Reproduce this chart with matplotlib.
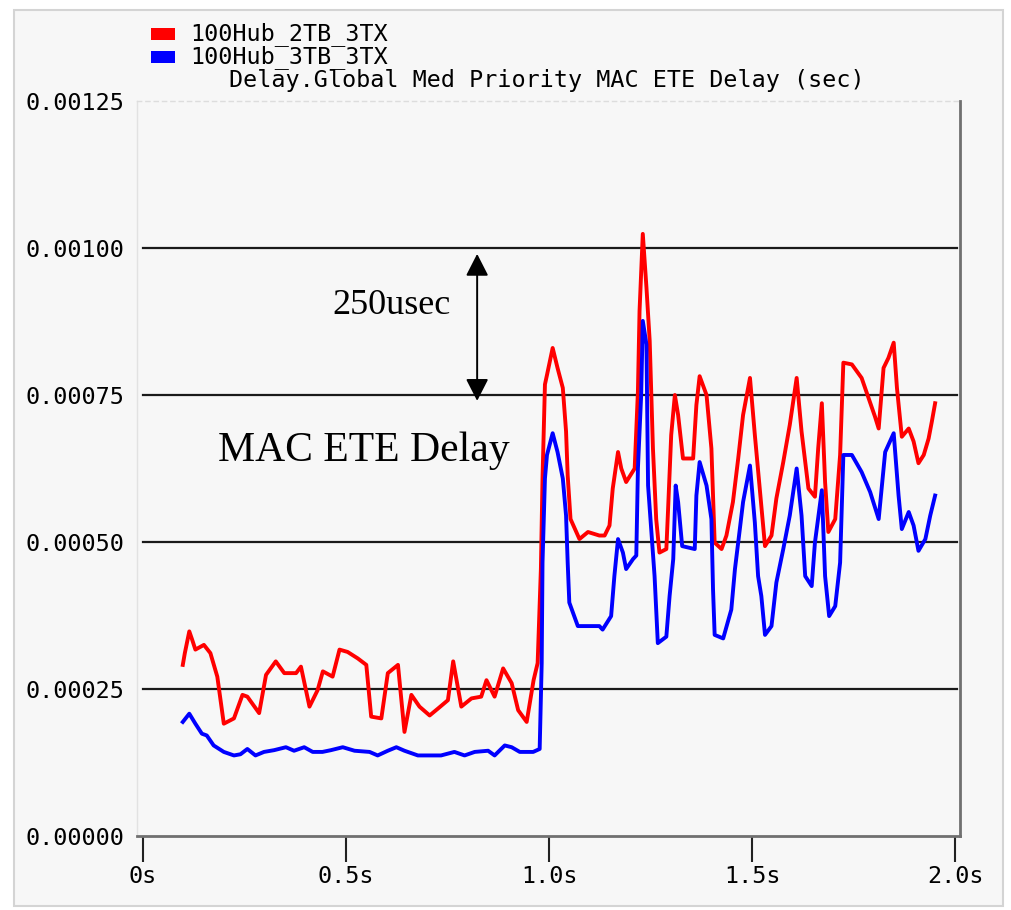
import matplotlib
matplotlib.use("Agg")
import matplotlib.pyplot as plt
from matplotlib.patches import Rectangle

W, H = 1011, 910
BG = "#f7f7f7"
RED = "#ff0000"
BLUE = "#0000ff"
MONO = "DejaVu Sans Mono"
SERIF = "Liberation Serif"
FS = 16.8

# ---- data (time in s, delay in sec) ----
red_t = [0.098, 0.103, 0.114, 0.121, 0.129, 0.150, 0.166, 0.183, 0.199, 0.224,
         0.245, 0.257, 0.286, 0.303, 0.327, 0.348, 0.377, 0.389, 0.410, 0.430,
         0.443, 0.467, 0.484, 0.504, 0.529, 0.550, 0.562, 0.587, 0.603, 0.628,
         0.644, 0.661, 0.681, 0.706, 0.727, 0.751, 0.764, 0.784, 0.809, 0.833,
         0.846, 0.866, 0.887, 0.908, 0.924, 0.945, 0.962, 0.972, 0.980, 0.984,
         0.990, 0.995, 1.009, 1.021, 1.034, 1.042, 1.046, 1.053, 1.075, 1.096,
         1.124, 1.137, 1.149, 1.157, 1.170, 1.178, 1.190, 1.211, 1.219, 1.223,
         1.231, 1.240, 1.248, 1.256, 1.264, 1.272, 1.289, 1.293, 1.301, 1.310,
         1.318, 1.330, 1.355, 1.359, 1.363, 1.371, 1.388, 1.400, 1.408, 1.425,
         1.437, 1.453, 1.466, 1.478, 1.495, 1.507, 1.519, 1.532, 1.548, 1.560,
         1.577, 1.593, 1.610, 1.622, 1.639, 1.655, 1.663, 1.672, 1.680, 1.688,
         1.705, 1.717, 1.725, 1.746, 1.770, 1.787, 1.803, 1.812, 1.824, 1.836,
         1.849, 1.857, 1.869, 1.886, 1.898, 1.910, 1.923, 1.935, 1.943, 1.951]
red_v = [0.000291, 0.000311, 0.000348, 0.000334, 0.000317, 0.000325, 0.000311, 0.000271, 0.000191, 0.000200,
         0.000240, 0.000237, 0.000209, 0.000274, 0.000297, 0.000277, 0.000277, 0.000288, 0.000220, 0.000248,
         0.000280, 0.000271, 0.000317, 0.000313, 0.000302, 0.000291, 0.000203, 0.000200, 0.000277, 0.000291,
         0.000177, 0.000240, 0.000220, 0.000205, 0.000217, 0.000231, 0.000297, 0.000220, 0.000234, 0.000237,
         0.000265, 0.000237, 0.000285, 0.000260, 0.000214, 0.000194, 0.000265, 0.000294, 0.000454, 0.000608,
         0.000768, 0.000784, 0.000830, 0.000796, 0.000762, 0.000688, 0.000613, 0.000539, 0.000505, 0.000517,
         0.000511, 0.000511, 0.000528, 0.000591, 0.000653, 0.000625, 0.000602, 0.000625, 0.000756, 0.000893,
         0.001024, 0.000933, 0.000842, 0.000659, 0.000539, 0.000482, 0.000488, 0.000551, 0.000682, 0.000750,
         0.000716, 0.000642, 0.000642, 0.000688, 0.000733, 0.000782, 0.000750, 0.000659, 0.000499, 0.000488,
         0.000511, 0.000568, 0.000642, 0.000716, 0.000779, 0.000682, 0.000591, 0.000493, 0.000511, 0.000574,
         0.000636, 0.000699, 0.000779, 0.000688, 0.000591, 0.000577, 0.000659, 0.000736, 0.000602, 0.000517,
         0.000539, 0.000648, 0.000805, 0.000802, 0.000779, 0.000745, 0.000713, 0.000693, 0.000796, 0.000813,
         0.000839, 0.000762, 0.000679, 0.000693, 0.000671, 0.000634, 0.000648, 0.000676, 0.000705, 0.000736]

blue_t = [0.098, 0.114, 0.129, 0.145, 0.157, 0.174, 0.199, 0.224, 0.240, 0.257,
          0.277, 0.298, 0.323, 0.352, 0.372, 0.397, 0.418, 0.442, 0.463, 0.492,
          0.521, 0.558, 0.578, 0.603, 0.624, 0.644, 0.677, 0.734, 0.767, 0.792,
          0.817, 0.850, 0.866, 0.891, 0.908, 0.928, 0.961, 0.977, 0.982, 0.984,
          0.990, 0.995, 1.009, 1.021, 1.034, 1.042, 1.046, 1.050, 1.071, 1.124,
          1.132, 1.153, 1.161, 1.170, 1.182, 1.190, 1.207, 1.215, 1.219, 1.227,
          1.231, 1.240, 1.244, 1.260, 1.264, 1.268, 1.289, 1.297, 1.306, 1.312,
          1.318, 1.328, 1.359, 1.363, 1.371, 1.388, 1.400, 1.404, 1.408, 1.429,
          1.449, 1.458, 1.470, 1.478, 1.495, 1.507, 1.515, 1.523, 1.532, 1.548,
          1.560, 1.577, 1.593, 1.610, 1.622, 1.631, 1.647, 1.655, 1.672, 1.680,
          1.690, 1.705, 1.717, 1.725, 1.746, 1.770, 1.791, 1.812, 1.828, 1.849,
          1.861, 1.869, 1.886, 1.898, 1.910, 1.927, 1.939, 1.951]
blue_v = [0.000194, 0.000208, 0.000191, 0.000174, 0.000171, 0.000154, 0.000143, 0.000137, 0.000139, 0.000148,
          0.000137, 0.000143, 0.000146, 0.000151, 0.000145, 0.000151, 0.000143, 0.000143, 0.000146, 0.000151,
          0.000145, 0.000143, 0.000137, 0.000145, 0.000151, 0.000145, 0.000137, 0.000137, 0.000143, 0.000137,
          0.000143, 0.000145, 0.000137, 0.000154, 0.000151, 0.000143, 0.000143, 0.000148, 0.000294, 0.000465,
          0.000608, 0.000648, 0.000685, 0.000653, 0.000608, 0.000545, 0.000465, 0.000397, 0.000357, 0.000357,
          0.000351, 0.000374, 0.000442, 0.000505, 0.000482, 0.000454, 0.000471, 0.000477, 0.000625, 0.000750,
          0.000876, 0.000836, 0.000596, 0.000442, 0.000385, 0.000328, 0.000339, 0.000408, 0.000471, 0.000596,
          0.000568, 0.000493, 0.000488, 0.000579, 0.000636, 0.000596, 0.000539, 0.000419, 0.000342, 0.000336,
          0.000385, 0.000454, 0.000522, 0.000568, 0.000630, 0.000533, 0.000442, 0.000408, 0.000342, 0.000357,
          0.000431, 0.000488, 0.000545, 0.000625, 0.000545, 0.000442, 0.000425, 0.000499, 0.000588, 0.000442,
          0.000374, 0.000391, 0.000465, 0.000648, 0.000648, 0.000619, 0.000585, 0.000539, 0.000653, 0.000685,
          0.000579, 0.000522, 0.000551, 0.000528, 0.000485, 0.000505, 0.000545, 0.000579]

series_names = ["100Hub_2TB_3TX", "100Hub_3TB_3TX"]
series_colors = [RED, BLUE]
x_ticks = [0.0, 0.5, 1.0, 1.5, 2.0]
x_labels = ["0s", "0.5s", "1.0s", "1.5s", "2.0s"]
y_ticks = [0.0, 0.00025, 0.0005, 0.00075, 0.001, 0.00125]
y_labels = ["0.00000", "0.00025", "0.00050", "0.00075", "0.00100", "0.00125"]


def fx(x):
    return x / W


def fy(y):
    return 1 - y / H


fig = plt.figure(figsize=(W / 100, H / 100), dpi=100, facecolor="white")

# grey panel behind everything
fig.patches.append(Rectangle((fx(14), fy(906)), fx(1003) - fx(14), fy(10) - fy(906),
                             transform=fig.transFigure, facecolor=BG,
                             edgecolor="#d4d4d4", linewidth=1.5, zorder=-5))

ax = fig.add_axes([fx(137), fy(836), fx(960) - fx(137), fy(101) - fy(836)])
ax.set_zorder(1)
ax.set_facecolor(BG)
ax.set_xlim(-0.0148, 2.0123)
ax.set_ylim(0, 0.00125)

for v in y_ticks[1:-1]:
    ax.axhline(v, xmin=0.007, xmax=0.996, color="#1a1a1a", lw=1.6, zorder=1)

ax.plot(red_t, red_v, color=RED, lw=2.8, zorder=3)
ax.plot(blue_t, blue_v, color=BLUE, lw=2.8, zorder=3)

ax.set_xticks(x_ticks)
ax.set_xticklabels(x_labels, fontfamily=MONO, fontsize=FS)
ax.set_yticks(y_ticks)
ax.set_yticklabels(y_labels, fontfamily=MONO, fontsize=FS)
ax.tick_params(axis="x", direction="out", length=19, width=1.5, color="#222222", pad=2)
ax.tick_params(axis="y", length=0, pad=9)

ax.spines["left"].set_color("#e2e2e2")
ax.spines["left"].set_linewidth(1.0)
ax.spines["top"].set_color("#dddddd")
ax.spines["top"].set_linestyle((0, (3, 3)))
ax.spines["top"].set_linewidth(1.0)
ax.spines["right"].set_color("#707070")
ax.spines["right"].set_linewidth(2.0)
ax.spines["bottom"].set_color("#707070")
ax.spines["bottom"].set_linewidth(2.0)

# annotations
ax.annotate("", xy=(0.823, 0.00099), xytext=(0.823, 0.00074),
            arrowprops=dict(arrowstyle="<|-|>,head_length=0.45,head_width=0.23",
                            mutation_scale=30, color="black", lw=1.4,
                            shrinkA=0, shrinkB=0), zorder=4)
ax.text(0.613, 0.000887, "250usec", fontfamily=SERIF, fontsize=26,
        ha="center", va="baseline", zorder=4)
ax.text(0.185, 0.000637, "MAC ETE Delay", fontfamily=SERIF, fontsize=30,
        ha="left", va="baseline", zorder=4)

# legend and title (drawn as figure text)
for i, (name, col) in enumerate(zip(series_names, series_colors)):
    yc = 34 + 23 * i
    fig.patches.append(Rectangle((fx(151), fy(yc + 6)), fx(24), fy(0) - fy(12),
                                 transform=fig.transFigure, facecolor=col,
                                 edgecolor="none", zorder=2))
    fig.text(fx(190), fy(yc), name, fontfamily=MONO, fontsize=FS,
             ha="left", va="center")
fig.text(fx(547), fy(80), "Delay.Global Med Priority MAC ETE Delay (sec)",
         fontfamily=MONO, fontsize=FS, ha="center", va="center")

fig.savefig("out.png", dpi=100, facecolor="white")
